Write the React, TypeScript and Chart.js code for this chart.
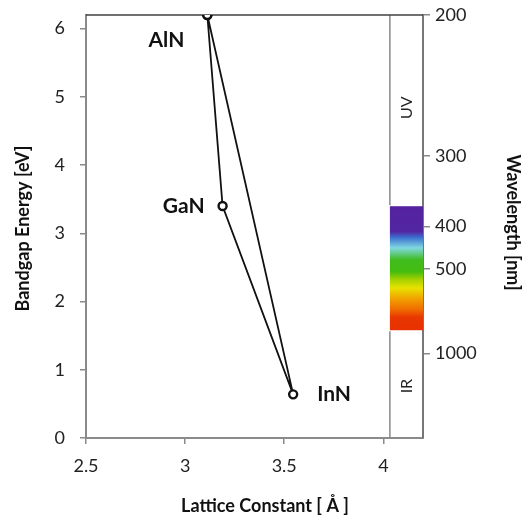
import React, { useEffect, useRef } from 'react';
import { Chart, registerables } from 'chart.js';

Chart.register(...registerables);

// ---- data ----
const materials = ['AlN', 'GaN', 'InN'];
const latticeConstant = [3.112, 3.189, 3.545];
const bandgapEnergy = [6.2, 3.4, 0.64];
const triangleOrder = [0, 1, 2, 0];

const xTickValues = [2.5, 3, 3.5, 4];
const yTickValues = [0, 1, 2, 3, 4, 5, 6];
const wavelengthTicks = [200, 300, 400, 500, 1000];

const X_MIN = 2.5;
const X_MAX = 4.2;
const Y_MIN = 0;
const Y_MAX = 6.2;
const HC_EV_NM = 1240;

// visible spectrum band (nm) and its colour stops
const spectrumNm = [365, 410, 422, 445, 475, 508, 535, 564, 613, 660, 700, 785];
const spectrumColors = [
  '#5522a0', '#5226a2', '#3c6fd0', '#80d8e0', '#3fbb1e', '#44bc10',
  '#a8d200', '#e8e200', '#f29a00', '#f06a00', '#e83800', '#e83000',
];
const bandLabels = ['UV', 'IR'];
const uvRangeNm = [200, 365];
const BAND_X_START = 4.033;

const FONT = 'Lato, "Open Sans", sans-serif';

const eFromNm = (nm: number) => HC_EV_NM / nm;

const overlayPlugin = {
  id: 'overlay',
  beforeDatasetsDraw(chart: any) {
    const { ctx, chartArea, scales } = chart;
    const x = scales.x;
    const y = scales.y;
    const bx0 = x.getPixelForValue(BAND_X_START);
    const bx1 = chartArea.right;
    const ySpecTop = y.getPixelForValue(eFromNm(spectrumNm[0]));
    const ySpecBot = y.getPixelForValue(eFromNm(spectrumNm[spectrumNm.length - 1]));
    ctx.save();
    const g = ctx.createLinearGradient(0, ySpecTop, 0, ySpecBot);
    spectrumNm.forEach((nm, i) => {
      const py = y.getPixelForValue(eFromNm(nm));
      const t = Math.min(1, Math.max(0, (py - ySpecTop) / (ySpecBot - ySpecTop)));
      g.addColorStop(t, spectrumColors[i]);
    });
    ctx.fillStyle = g;
    ctx.fillRect(bx0, ySpecTop, bx1 - bx0, ySpecBot - ySpecTop);
    ctx.strokeStyle = '#8a8a8a';
    ctx.lineWidth = 1.5;
    const uvTop = y.getPixelForValue(eFromNm(uvRangeNm[0]));
    const uvBot = y.getPixelForValue(eFromNm(uvRangeNm[1]));
    ctx.beginPath();
    ctx.moveTo(bx0, uvTop);
    ctx.lineTo(bx0, uvBot - 1);
    ctx.moveTo(bx0, ySpecBot + 1);
    ctx.lineTo(bx0, chartArea.bottom);
    ctx.stroke();
    ctx.fillStyle = '#222';
    ctx.font = `400 16px ${FONT}`;
    ctx.textAlign = 'center';
    ctx.textBaseline = 'middle';
    const cx = (bx0 + bx1) / 2;
    const uvMid = (uvTop + uvBot) / 2 - 3;
    const irMid = (ySpecBot + chartArea.bottom) / 2 + 2;
    [[bandLabels[0], uvMid], [bandLabels[1], irMid]].forEach(([t, cy]: any) => {
      ctx.save();
      ctx.translate(cx, cy);
      ctx.rotate(-Math.PI / 2);
      ctx.fillText(t, 0, 0);
      ctx.restore();
    });
    ctx.strokeStyle = '#404040';
    ctx.lineWidth = 1.5;
    ctx.beginPath();
    ctx.moveTo(chartArea.left, chartArea.top);
    ctx.lineTo(chartArea.right, chartArea.top);
    ctx.stroke();
    ctx.restore();
  },
  afterDraw(chart: any) {
    const { ctx, chartArea, scales } = chart;
    const x = scales.x;
    const y = scales.y;
    ctx.save();
    ctx.fillStyle = '#111';
    ctx.font = `700 21px ${FONT}`;
    ctx.textBaseline = 'middle';
    const offsets = [
      { dx: -23, dy: 25, align: 'right' },
      { dx: -18, dy: 0, align: 'right' },
      { dx: 24, dy: 0, align: 'left' },
    ];
    materials.forEach((m, i) => {
      const px = x.getPixelForValue(latticeConstant[i]);
      const py = y.getPixelForValue(bandgapEnergy[i]);
      ctx.textAlign = offsets[i].align;
      ctx.fillText(m, px + offsets[i].dx, py + offsets[i].dy);
    });
    ctx.font = `700 18px ${FONT}`;
    ctx.textAlign = 'center';
    const midY = (chartArea.top + chartArea.bottom) / 2;
    ctx.save();
    ctx.translate(23, midY + 2);
    ctx.rotate(-Math.PI / 2);
    ctx.fillText('Bandgap Energy [eV]', 0, 0);
    ctx.restore();
    ctx.fillText('Lattice Constant [ Å ]', 265, 506);
    ctx.save();
    ctx.translate(513, midY - 4);
    ctx.rotate(Math.PI / 2);
    ctx.fillText('Wavelength [nm]', 0, 0);
    ctx.restore();
    ctx.restore();
  },
};

export default function App() {
  const canvasRef = useRef<HTMLCanvasElement | null>(null);

  useEffect(() => {
    if (!canvasRef.current) return;
    const points = triangleOrder.map((i) => ({ x: latticeConstant[i], y: bandgapEnergy[i] }));
    const axisColor = '#8a8a8a';
    const tickFont = { family: FONT, size: 18 };
    const fixPad = (s: any) => {
      s.paddingTop = 0;
      s.paddingBottom = 0;
    };
    const chart = new Chart(canvasRef.current, {
      type: 'scatter',
      data: {
        datasets: [
          {
            data: points,
            showLine: true,
            borderColor: '#111',
            borderWidth: 1.8,
            pointRadius: 4,
            pointHoverRadius: 4,
            pointBackgroundColor: '#fff',
            pointBorderColor: '#111',
            pointBorderWidth: 2.4,
          },
        ],
      },
      options: {
        responsive: false,
        animation: false,
        events: [],
        layout: { padding: { top: 15, left: 0, right: 0, bottom: 0 } },
        plugins: { legend: { display: false }, tooltip: { enabled: false } },
        scales: {
          x: {
            type: 'linear',
            min: X_MIN,
            max: X_MAX,
            afterBuildTicks: (s: any) => {
              s.ticks = xTickValues.map((v) => ({ value: v }));
            },
            afterFit: (s: any) => {
              s.height = 80;
              s.paddingLeft = 0;
              s.paddingRight = 0;
            },
            ticks: {
              font: tickFont,
              color: '#222',
              padding: 11,
              maxRotation: 0,
              callback: (v: any) => String(Number(v)),
            },
            grid: { drawOnChartArea: false, drawTicks: true, tickLength: 6, color: axisColor, lineWidth: 1.5 },
            border: { display: true, color: axisColor, width: 2 },
          },
          y: {
            type: 'linear',
            position: 'left',
            min: Y_MIN,
            max: Y_MAX,
            afterBuildTicks: (s: any) => {
              s.ticks = yTickValues.map((v) => ({ value: v }));
            },
            afterFit: (s: any) => {
              s.width = 86;
              fixPad(s);
            },
            ticks: { font: tickFont, color: '#222', padding: 15 },
            grid: { drawOnChartArea: false, drawTicks: true, tickLength: 6, color: axisColor, lineWidth: 1.5 },
            border: { display: true, color: axisColor, width: 2 },
          },
          y2: {
            type: 'linear',
            position: 'right',
            min: Y_MIN,
            max: Y_MAX,
            afterBuildTicks: (s: any) => {
              s.ticks = wavelengthTicks.map((nm) => ({ value: eFromNm(nm) }));
            },
            afterFit: (s: any) => {
              s.width = 99;
              fixPad(s);
            },
            ticks: {
              font: tickFont,
              color: '#222',
              padding: 5,
              callback: (v: any) => String(Math.round(HC_EV_NM / Number(v))),
            },
            grid: { drawOnChartArea: false, drawTicks: true, tickLength: 7, color: axisColor, lineWidth: 1.5 },
            border: { display: true, color: '#777', width: 2 },
          },
        },
      },
      plugins: [overlayPlugin],
    } as any);
    return () => chart.destroy();
  }, []);

  return (
    <div style={{ position: 'absolute', left: 0, top: 0, width: 522, height: 518, background: '#fff' }}>
      <canvas ref={canvasRef} width={522} height={518} />
    </div>
  );
}
